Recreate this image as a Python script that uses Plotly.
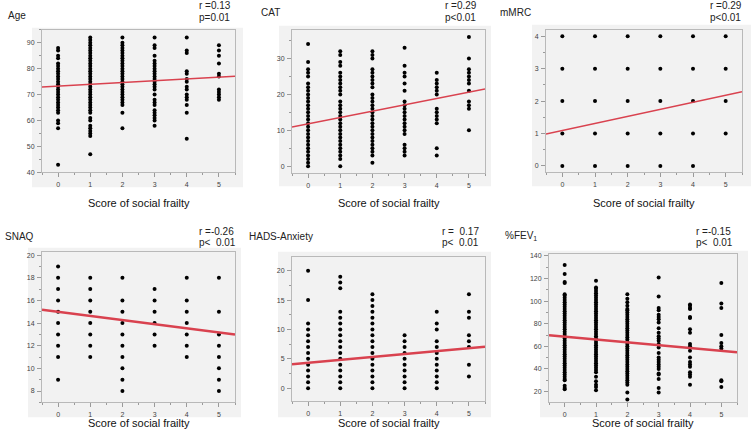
import plotly.graph_objects as go

# ---------------- data ----------------
scores = [0, 1, 2, 3, 4, 5]
score_tick_labels = ["0", "1", "2", "3", "4", "5"]

age_by_score = [
    [43, 57, 59, 60, 63, 64, 65, 66, 67, 68, 69, 70, 71, 72, 73, 74, 75, 76, 77, 78, 79, 80, 81, 82, 84, 85, 87, 88],
    [47, 54, 55, 56, 57, 58, 60, 61, 63, 64, 65, 66, 67, 68, 69, 70, 71, 72, 73, 74, 75, 76, 77, 78, 79, 80, 81, 82,
     83, 84, 85, 86, 87, 88, 89, 90, 91, 92],
    [57, 63, 66, 67, 68, 69, 70, 71, 72, 73, 74, 75, 76, 77, 78, 79, 80, 81, 82, 83, 84, 85, 86, 87, 88, 89, 90, 92],
    [58, 60, 61, 62, 63, 64, 66, 67, 68, 70, 72, 73, 74, 75, 76, 77, 78, 79, 80, 81, 82, 83, 85, 88, 89, 92],
    [53, 63, 66, 68, 69, 70, 72, 73, 75, 76, 78, 79, 86, 87, 92],
    [68, 69, 70, 71, 72, 77, 78, 82, 85, 87, 89],
]
cat_by_score = [
    [0, 1, 2, 3, 4, 5, 6, 7, 8, 9, 10, 11, 12, 13, 14, 15, 16, 17, 18, 19, 20, 21, 22, 23, 25, 26, 27, 29, 34],
    [0, 2, 3, 4, 5, 6, 7, 8, 9, 10, 11, 12, 13, 14, 15, 16, 17, 18, 20, 21, 22, 23, 24, 25, 26, 28, 29, 31, 32],
    [1, 3, 4, 5, 6, 7, 8, 9, 10, 11, 12, 13, 14, 15, 16, 17, 18, 19, 20, 22, 23, 24, 25, 26, 27, 30, 31, 32],
    [3, 4, 5, 6, 9, 10, 11, 12, 13, 14, 15, 16, 17, 18, 21, 23, 25, 26, 28, 33],
    [3, 5, 12, 13, 14, 15, 16, 20, 21, 22, 23, 24, 26],
    [10, 16, 17, 18, 21, 23, 24, 25, 26, 27, 30, 36],
]
mmrc_by_score = [
    [0, 1, 2, 3, 4],
    [0, 1, 2, 3, 4],
    [0, 1, 2, 3, 4],
    [0, 1, 2, 3, 4],
    [0, 1, 2, 3, 4],
    [1, 2, 3, 4],
]
snaq_by_score = [
    [9, 11, 12, 13, 14, 15, 16, 17, 18, 19],
    [11, 12, 13, 14, 15, 16, 17, 18],
    [8, 9, 10, 11, 12, 13, 14, 15, 16, 18],
    [12, 13, 14, 15, 16, 17],
    [11, 12, 13, 14, 15, 16, 18],
    [8, 9, 10, 11, 12, 13, 15, 18],
]
hads_by_score = [
    [0, 1, 2, 3, 4, 5, 6, 7, 8, 9, 10, 11, 15, 20],
    [0, 1, 2, 3, 4, 5, 6, 7, 8, 9, 10, 11, 12, 13, 17, 18, 19],
    [0, 1, 2, 3, 4, 5, 6, 7, 8, 9, 10, 11, 12, 13, 14, 15, 16],
    [0, 1, 2, 3, 4, 5, 6, 7, 8, 9],
    [0, 1, 2, 3, 4, 5, 6, 7, 8, 10, 11, 13],
    [2, 4, 7, 8, 9, 12, 13, 16],
]
fev_by_score = [
    [22, 23, 25, 30, 31, 33, 35, 37, 39, 41, 43, 45, 47, 49, 51, 53, 55, 57, 59, 61, 63, 65, 67, 69, 71, 73, 75, 77,
     79, 81, 83, 85, 87, 89, 91, 93, 95, 97, 99, 101, 103, 105, 106, 116, 117, 124, 132],
    [21, 24, 26, 29, 33, 37, 39, 41, 43, 45, 47, 49, 51, 53, 55, 57, 59, 61, 63, 65, 67, 69, 71, 73, 75, 77, 79, 81,
     83, 85, 87, 89, 91, 93, 95, 97, 99, 101, 103, 105, 107, 109, 111, 112, 118],
    [13, 19, 26, 28, 30, 32, 34, 36, 38, 40, 42, 44, 46, 48, 50, 52, 54, 56, 58, 60, 62, 64, 66, 68, 70, 72, 74, 76,
     78, 80, 82, 84, 86, 88, 90, 92, 93, 96, 99, 102, 106],
    [19, 23, 31, 35, 36, 40, 42, 44, 46, 48, 50, 54, 59, 62, 65, 67, 69, 72, 76, 81, 84, 86, 88, 92, 94, 104, 121],
    [26, 33, 35, 37, 42, 44, 46, 50, 56, 60, 62, 72, 75, 85, 86, 93, 94, 96, 97],
    [24, 29, 30, 58, 60, 63, 70, 94, 98, 116],
]

panel_titles = ["Age", "CAT", "mMRC", "SNAQ", "HADS-Anxiety", "%FEV<sub>1</sub>"]
r_labels = ["r =0.13", "r =0.29", "r =0.29", "r =-0.26", "r =\u00a0\u00a00.17", "r =-0.15"]
p_labels = ["p=0.01", "p<0.01", "p<0.01", "p<\u00a0\u00a00.01", "p<\u00a0\u00a00.01", "p<\u00a0\u00a00.01"]
fit_intercepts = [73.3, 11.83, 1.09, 14.99, 4.31, 68.6]
fit_slopes = [0.68, 1.76, 0.218, -0.363, 0.497, -2.53]
panel_data = [age_by_score, cat_by_score, mmrc_by_score, snaq_by_score, hads_by_score, fev_by_score]
x_title = "Score of social frailty"

# ---------------- layout (pixels) ----------------
W, H = 753, 442
FONT = "Arial, 'Liberation Sans', Helvetica, sans-serif"
frames = [(42, 235, 29, 173), (292, 485, 29, 174), (546, 742, 29, 173),
          (42, 235, 253, 405), (292, 485, 258, 404), (549, 737, 255, 405)]
grays = [(32, 243, 27, 188), (279, 491, 25, 187), (532, 751, 24, 187),
         (28, 241, 249, 420), (278, 491, 253, 420), (540, 748, 252, 420)]
y_ranges = [[40, 95], [-2, 38], [-0.2, 4.2], [7, 20.3], [-2.25, 22.4], [10.4, 142]]
y_dticks = [10, 10, 1, 2, 5, 20]
y_minor = [5, 5, 0.5, 1, 2.5, 10]
y_tick0 = [40, 0, 0, 8, 0, 20]
title_pos = [(6, 15), (259, 12), (498, 12), (3, 238), (247, 238), (503, 237)]
r_pos = [(197, 5, 17), (443, 5, 17), (708, 5, 17), (197, 233, 244), (440, 233, 244), (694, 233, 244)]
xtitle_y = [204, 204, 204, 426, 426, 426]
fit_widths = [1.5, 1.5, 1.5, 2.6, 2.6, 2.6]
x_range = [-0.5, 5.5]


def px(x):
    return x / W


def py(y):
    return 1 - y / H


fig = go.Figure()
shapes = []
annotations = []
layout_axes = {}

for i in range(6):
    n = "" if i == 0 else str(i + 1)
    xa, ya = "x" + n, "y" + n
    xs, ys = [], []
    for s, vals in zip(scores, panel_data[i]):
        xs += [s] * len(vals)
        ys += vals
    fig.add_trace(go.Scatter(x=xs, y=ys, mode="markers", xaxis=xa, yaxis=ya,
                             marker=dict(size=4, color="black"), showlegend=False, hoverinfo="skip"))
    fx = x_range
    fy = [fit_intercepts[i] + fit_slopes[i] * v for v in fx]
    fig.add_trace(go.Scatter(x=fx, y=fy, mode="lines", xaxis=xa, yaxis=ya,
                             line=dict(color="#d9424f", width=fit_widths[i]), showlegend=False, hoverinfo="skip"))

    l, r, t, b = frames[i]
    gl, gr, gt, gb = grays[i]
    shapes.append(dict(type="rect", xref="paper", yref="paper", x0=px(gl), x1=px(gr), y0=py(gb), y1=py(gt),
                       fillcolor="#f2f2f2", line=dict(width=0), layer="below"))
    axis_common = dict(showgrid=False, zeroline=False, showline=True, mirror=True, linecolor="#b9b9b9",
                       linewidth=1, ticks="outside", ticklen=4, tickcolor="#9a9a9a", tickwidth=1,
                       tickfont=dict(family=FONT, size=7, color="#444444"), fixedrange=True)
    layout_axes["xaxis" + n] = dict(axis_common, domain=[px(l), px(r)], anchor=ya, range=x_range,
                                    tickvals=scores, ticktext=score_tick_labels, ticklabelstandoff=1,
                                    minor=dict(dtick=0.5, tick0=-0.5, ticks="outside", ticklen=2, tickcolor="#9a9a9a"))
    layout_axes["yaxis" + n] = dict(axis_common, domain=[py(b), py(t)], anchor=xa, range=y_ranges[i],
                                    tick0=y_tick0[i], dtick=y_dticks[i], ticklabelstandoff=1,
                                    minor=dict(dtick=y_minor[i], ticks="outside", ticklen=2, tickcolor="#9a9a9a"))

    tx, ty = title_pos[i]
    annotations.append(dict(text=panel_titles[i], x=px(tx), y=py(ty), xref="paper", yref="paper",
                            xanchor="left", yanchor="middle", showarrow=False,
                            font=dict(family=FONT, size=10, color="#222222")))
    rx, ry1, ry2 = r_pos[i]
    annotations.append(dict(text=r_labels[i], x=px(rx), y=py(ry1), xref="paper", yref="paper",
                            xanchor="left", yanchor="middle", showarrow=False,
                            font=dict(family=FONT, size=10, color="#222222")))
    annotations.append(dict(text=p_labels[i], x=px(rx), y=py(ry2), xref="paper", yref="paper",
                            xanchor="left", yanchor="middle", showarrow=False,
                            font=dict(family=FONT, size=10, color="#222222")))
    annotations.append(dict(text=x_title, x=px((l + r) / 2), y=py(xtitle_y[i]), xref="paper", yref="paper",
                            xanchor="center", yanchor="middle", showarrow=False,
                            font=dict(family=FONT, size=11, color="#111111")))

fig.update_layout(width=W, height=H, margin=dict(l=0, r=0, t=0, b=0),
                  paper_bgcolor="white", plot_bgcolor="white",
                  shapes=shapes, annotations=annotations, **layout_axes)

fig.write_html("out.html", config={"displayModeBar": False, "staticPlot": True},
               post_script="document.body.style.margin='0';document.body.style.padding='0';")
